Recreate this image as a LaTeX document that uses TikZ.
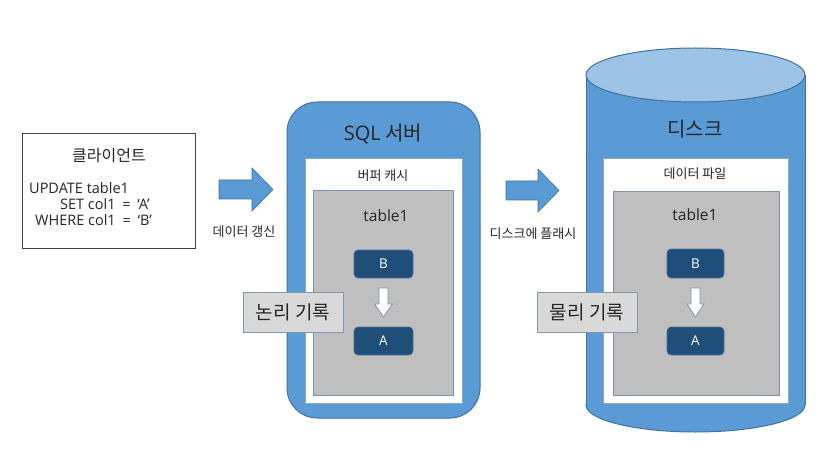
\documentclass[tikz,border=0pt]{standalone}
\usepackage{fontspec}
\setmainfont{Noto Sans CJK KR}
\newfontfamily\lat{Open Sans}
\definecolor{blu}{HTML}{5B9BD5}
\definecolor{bluedge}{HTML}{41719C}
\definecolor{blutop}{HTML}{9DC3E6}
\definecolor{grayfill}{HTML}{BFBFBF}
\definecolor{grayedge}{HTML}{7A93B3}
\definecolor{dark}{HTML}{1F4E79}
\definecolor{labfill}{HTML}{D9D9D9}
\definecolor{labedge}{HTML}{8497B0}
\definecolor{txt}{HTML}{262626}
\tikzset{
  blockarrow/.style={fill=blu, draw=bluedge, line width=0.6pt},
  downarrow/.style={fill=white, draw=grayedge, line width=0.8pt},
  whitebox/.style={fill=white, draw=bluedge!60, line width=0.6pt},
  graybox/.style={fill=grayfill, draw=grayedge, line width=0.8pt},
  cell/.style={fill=dark, draw=dark!80!white, line width=0.6pt, rounded corners=4pt, text=white, font=\lat\fontsize{13.5}{15}\selectfont},
  tag/.style={fill=labfill, draw=labedge, line width=0.8pt, text=txt, font=\fontsize{19}{22}\selectfont, inner sep=0pt},
  lbl/.style={text=txt, inner sep=0pt},
  small/.style={font=\fontsize{13}{15}\selectfont},
  code/.style={lbl, anchor=west, font=\lat\fontsize{14.5}{16}\selectfont},
}
\newcommand\eqsp{\hspace{3pt}}
\begin{document}
\begin{tikzpicture}[x=1pt,y=-1pt]
\useasboundingbox (0,0) rectangle (832,465);
% client
\node[draw=black!75, line width=0.8pt, minimum width=173pt, minimum height=115pt] (client) at (108.5,190.5) {};
\node[lbl, font=\fontsize{16}{18}\selectfont] (clienttitle) at (109,156) {클라이언트};
\node[code] (l1) at (29,188) {UPDATE table1};
\node[code] (l2) at (60,204) {SET col1\eqsp{} =\eqsp{} ‘A’};
\node[code] (l3) at (35,220) {WHERE col1\eqsp{} =\eqsp{} ‘B’};
% arrow 1
\draw[blockarrow] (219,180) -- (252,180) -- (252,168) -- (273,189.5) -- (252,211) -- (252,199) -- (219,199) -- cycle;
\node[lbl, small] (upd) at (244,232) {데이터 갱신};
% SQL server
\draw[fill=blu, draw=bluedge, line width=1pt, rounded corners=30pt] (287,102) rectangle (480,418);
\node[lbl, font=\fontsize{20}{22}\selectfont, text=txt] (sqltitle) at (383,134) {{\lat SQL} 서버};
\draw[whitebox] (305,158) rectangle (462,403);
\node[lbl, small] (cache) at (383,176) {버퍼 캐시};
\draw[graybox] (313,190) rectangle (453,395);
\node[lbl, font=\lat\fontsize{15.5}{17}\selectfont] (t1) at (386,216) {table1};
\node[cell, minimum width=59pt, minimum height=28pt] (b1) at (383.5,264) {B};
\node[cell, minimum width=59pt, minimum height=28pt] (a1) at (383.5,341) {A};
\draw[downarrow] (379,288) -- (388,288) -- (388,304) -- (392.5,304) -- (383.5,317) -- (374.5,304) -- (379,304) -- cycle;
\node[tag, minimum width=100pt, minimum height=40pt] (logical) at (293,312) {논리 기록};
% arrow 2
\draw[blockarrow] (506,181) -- (538,181) -- (538,169) -- (559,190.5) -- (538,212) -- (538,200) -- (506,200) -- cycle;
\node[lbl, small] (flush) at (533,234) {디스크에 플래시};
% disk cylinder
\draw[fill=blu, draw=bluedge, line width=1pt] (695.5,405) ellipse [x radius=109.5, y radius=27];
\fill[blu] (586,75) rectangle (805,405);
\draw[bluedge, line width=1pt] (586,75) -- (586,405) (805,75) -- (805,405);
\draw[fill=blutop, draw=bluedge, line width=1pt] (695.5,75) ellipse [x radius=109.5, y radius=27];
\node[lbl, font=\fontsize{20}{22}\selectfont] (disktitle) at (695,129) {디스크};
\draw[whitebox] (603,158) rectangle (788,403);
\node[lbl, small] (datafile) at (695,174) {데이터 파일};
\draw[graybox] (613,191) rectangle (779,395);
\node[lbl, font=\lat\fontsize{15.5}{17}\selectfont] (t2) at (695,215) {table1};
\node[cell, minimum width=57pt, minimum height=29pt] (b2) at (695.5,263.5) {B};
\node[cell, minimum width=57pt, minimum height=28pt] (a2) at (695.5,341) {A};
\draw[downarrow] (691,288) -- (700,288) -- (700,304) -- (704,304) -- (695.5,317) -- (687,304) -- (691,304) -- cycle;
\node[tag, minimum width=100pt, minimum height=40pt] (physical) at (587,312) {물리 기록};
\end{tikzpicture}
\end{document}
